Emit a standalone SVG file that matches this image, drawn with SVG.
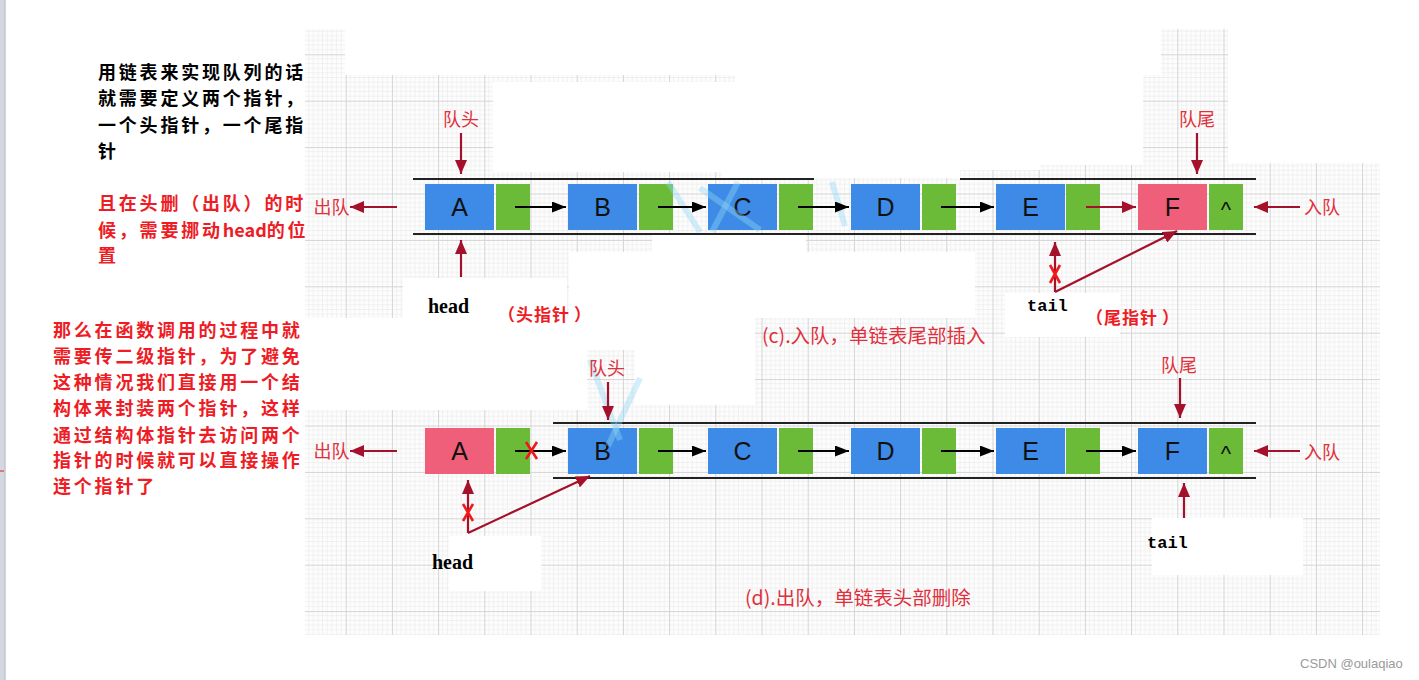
<svg xmlns="http://www.w3.org/2000/svg" width="1419" height="680" viewBox="0 0 1419 680">
<defs>
<style>
.blue{fill:#3d8be6}
.green{fill:#6bba38}
.pink{fill:#ef5f79}
.let{font-family:"Liberation Sans",Arial,sans-serif;font-size:25px;fill:#111;text-anchor:middle}
.caret{font-family:"Liberation Sans",Arial,sans-serif;font-size:22px;fill:#111;text-anchor:middle}
.cap{font-family:"Noto Sans CJK SC",sans-serif;font-size:19.5px;fill:#e0303c}
.lblc{font-family:"Noto Sans CJK SC",sans-serif;font-size:18px;fill:#e0303c;text-anchor:middle}
.ptr{font-family:"Noto Sans CJK SC",sans-serif;font-size:17px;font-weight:700;letter-spacing:1px;fill:#ee1c25}
.note{font-family:"Noto Sans CJK SC",sans-serif;font-size:18px;font-weight:700;letter-spacing:2.8px}
.ra{stroke:#a5102a;stroke-width:2.2;fill:none}
.ba{stroke:#000;stroke-width:2;fill:none}
.rail{stroke:#222;stroke-width:2}
.x{stroke:#f01818;stroke-width:2.6;fill:none}
.wp{fill:#fff}
.streak{stroke:#8fd6f6;stroke-width:6;opacity:0.4;fill:none}
</style>
<pattern id="g" patternUnits="userSpaceOnUse" x="345.7" y="54.3" width="46.2" height="46.4">
<rect width="46.2" height="46.4" fill="#fdfdfd"/>
<path d="M4.62,0V46.4M9.24,0V46.4M13.86,0V46.4M18.48,0V46.4M23.1,0V46.4M27.72,0V46.4M32.34,0V46.4M36.96,0V46.4M41.58,0V46.4M0,4.64H46.2M0,9.28H46.2M0,13.92H46.2M0,18.56H46.2M0,23.2H46.2M0,27.84H46.2M0,32.48H46.2M0,37.12H46.2M0,41.76H46.2" stroke="#ebebeb" stroke-width="0.7"/>
<path d="M0.5,0V46.4M0,0.5H46.2" stroke="#d4d4d4" stroke-width="1"/>
</pattern>
<marker id="mr" markerUnits="userSpaceOnUse" markerWidth="14" markerHeight="12" refX="14" refY="6" orient="auto"><path d="M0,0 L14,6 L0,12 z" fill="#a5102a"/></marker>
<marker id="mb" markerUnits="userSpaceOnUse" markerWidth="14" markerHeight="11" refX="14" refY="5.5" orient="auto"><path d="M0,0 L14,5.5 L0,11 z" fill="#000"/></marker>
</defs>

<rect width="1419" height="680" fill="#fff"/>
<rect x="0" y="0" width="4.5" height="680" fill="#d3d7e0"/>
<line x1="5" y1="0" x2="5" y2="680" stroke="#a4abba" stroke-width="1"/>
<line x1="0" y1="471" x2="4" y2="471" stroke="#e02020" stroke-width="1"/>

<g id="background">
<rect x="305" y="29" width="1075" height="606" fill="url(#g)"/>
<rect class="wp" x="345" y="29" width="816" height="46"/>
<rect class="wp" x="1228" y="29" width="152" height="134"/>
<rect class="wp" x="735" y="75" width="408" height="90"/>
<rect class="wp" x="493" y="82" width="242" height="90"/>
<rect class="wp" x="722" y="165" width="238" height="13"/>
<rect class="wp" x="960" y="165" width="80" height="5"/>
<rect class="wp" x="403" y="278" width="164" height="40"/>
<rect class="wp" x="569" y="252" width="406" height="66"/>
<rect class="wp" x="652" y="235" width="154" height="17"/>
<rect class="wp" x="305" y="318" width="282" height="92"/>
<rect class="wp" x="587" y="318" width="168" height="32"/>
<rect class="wp" x="635" y="350" width="120" height="55"/>
<rect class="wp" x="1005" y="293" width="115" height="44"/>
<rect class="wp" x="449" y="536" width="92" height="55"/>
<rect class="wp" x="1152" y="518" width="151" height="57"/>
</g>

<g id="notes">
<text class="note" fill="#000"><tspan x="98" y="79">用链表来实现队列的话</tspan><tspan x="98" y="105">就需要定义两个指针，</tspan><tspan x="98" y="132">一个头指针，一个尾指</tspan><tspan x="98" y="158">针</tspan></text>
<text class="note" fill="#ee1c25"><tspan x="98" y="210">且在头删（出队）的时</tspan><tspan x="98" y="237">候，需要挪动</tspan><tspan style="letter-spacing:0">head</tspan><tspan>的位</tspan><tspan x="98" y="262">置</tspan></text>
<text class="note" fill="#ee1c25"><tspan x="53" y="337">那么在函数调用的过程中就</tspan><tspan x="53" y="363">需要传二级指针，为了避免</tspan><tspan x="53" y="389">这种情况我们直接用一个结</tspan><tspan x="53" y="415">构体来封装两个指针，这样</tspan><tspan x="53" y="442">通过结构体指针去访问两个</tspan><tspan x="53" y="467">指针的时候就可以直接操作</tspan><tspan x="53" y="493">连个指针了</tspan></text>
</g>

<g id="rails">
<line class="rail" x1="413" y1="179" x2="814" y2="179"/>
<line class="rail" x1="960" y1="179" x2="1256" y2="179"/>
<line class="rail" x1="413" y1="234" x2="1256" y2="234"/>
<line class="rail" x1="553" y1="423" x2="1256" y2="423"/>
<line class="rail" x1="553" y1="478" x2="1256" y2="478"/>
</g>

<g id="c-A"><rect class="blue" x="425" y="184" width="69" height="46"/><rect class="green" x="496" y="184" width="34" height="46"/><text class="let" x="459.5" y="216">A</text></g>
<g id="c-B"><rect class="blue" x="568" y="184" width="69" height="46"/><rect class="green" x="639" y="184" width="34" height="46"/><text class="let" x="602.5" y="216">B</text></g>
<g id="c-C"><rect class="blue" x="708" y="184" width="69" height="46"/><rect class="green" x="779" y="184" width="34" height="46"/><text class="let" x="742.5" y="216">C</text></g>
<g id="c-D"><rect class="blue" x="851" y="184" width="69" height="46"/><rect class="green" x="922" y="184" width="34" height="46"/><text class="let" x="885.5" y="216">D</text></g>
<g id="c-E"><rect class="blue" x="996" y="184" width="69" height="46"/><rect class="green" x="1066" y="184" width="34" height="46"/><text class="let" x="1030.5" y="216">E</text></g>
<g id="c-F"><rect class="pink" x="1138" y="184" width="69" height="46"/><rect class="green" x="1209" y="184" width="34" height="46"/><text class="let" x="1172.5" y="216">F</text><text class="caret" x="1226" y="217">^</text></g>

<g id="d-A"><rect class="pink" x="425" y="428" width="69" height="46"/><rect class="green" x="496" y="428" width="34" height="46"/><text class="let" x="459.5" y="460">A</text></g>
<g id="d-B"><rect class="blue" x="568" y="428" width="69" height="46"/><rect class="green" x="639" y="428" width="34" height="46"/><text class="let" x="602.5" y="460">B</text></g>
<g id="d-C"><rect class="blue" x="708" y="428" width="69" height="46"/><rect class="green" x="779" y="428" width="34" height="46"/><text class="let" x="742.5" y="460">C</text></g>
<g id="d-D"><rect class="blue" x="851" y="428" width="69" height="46"/><rect class="green" x="922" y="428" width="34" height="46"/><text class="let" x="885.5" y="460">D</text></g>
<g id="d-E"><rect class="blue" x="996" y="428" width="69" height="46"/><rect class="green" x="1066" y="428" width="34" height="46"/><text class="let" x="1030.5" y="460">E</text></g>
<g id="d-F"><rect class="blue" x="1138" y="428" width="69" height="46"/><rect class="green" x="1209" y="428" width="34" height="46"/><text class="let" x="1172.5" y="460">F</text><text class="caret" x="1226" y="461">^</text></g>

<g id="streaks">
<path class="streak" d="M668,182 L700,232"/>
<path class="streak" d="M738,182 L712,232"/>
<path class="streak" d="M700,188 L760,230"/>
<path class="streak" d="M832,182 L845,226"/>
<path class="streak" d="M590,360 L620,440"/>
<path class="streak" d="M640,378 L608,446"/>
</g>

<g id="connectors">
<line class="ba" x1="515" y1="207" x2="566" y2="207" marker-end="url(#mb)"/>
<line class="ba" x1="658" y1="207" x2="706" y2="207" marker-end="url(#mb)"/>
<line class="ba" x1="798" y1="207" x2="849" y2="207" marker-end="url(#mb)"/>
<line class="ba" x1="941" y1="207" x2="994" y2="207" marker-end="url(#mb)"/>
<line class="ra" x1="1086" y1="207" x2="1136" y2="207" marker-end="url(#mr)"/>
<line class="ra" x1="397" y1="207" x2="350" y2="207" marker-end="url(#mr)"/>
<line class="ra" x1="1300" y1="207" x2="1254" y2="207" marker-end="url(#mr)"/>
<line class="ra" x1="461" y1="133" x2="461" y2="174" marker-end="url(#mr)"/>
<line class="ra" x1="1197" y1="133" x2="1197" y2="174" marker-end="url(#mr)"/>
<line class="ra" x1="461" y1="277" x2="461" y2="240" marker-end="url(#mr)"/>
<line class="ra" x1="1055" y1="292" x2="1055" y2="242" marker-end="url(#mr)"/>
<line class="ra" x1="1055" y1="292" x2="1177" y2="231" marker-end="url(#mr)"/>
<path class="x" d="M1050,265 L1060,283 M1060,265 L1050,283"/>

<line class="ba" x1="515" y1="451" x2="566" y2="451" marker-end="url(#mb)"/>
<line class="ba" x1="658" y1="451" x2="706" y2="451" marker-end="url(#mb)"/>
<line class="ba" x1="798" y1="451" x2="849" y2="451" marker-end="url(#mb)"/>
<line class="ba" x1="941" y1="451" x2="994" y2="451" marker-end="url(#mb)"/>
<line class="ba" x1="1086" y1="451" x2="1136" y2="451" marker-end="url(#mb)"/>
<path class="x" d="M526,442 L537,459 M537,442 L526,459"/>
<line class="ra" x1="397" y1="451" x2="350" y2="451" marker-end="url(#mr)"/>
<line class="ra" x1="1300" y1="451" x2="1254" y2="451" marker-end="url(#mr)"/>
<line class="ra" x1="608" y1="382" x2="608" y2="420" marker-end="url(#mr)"/>
<line class="ra" x1="1180" y1="378" x2="1180" y2="418" marker-end="url(#mr)"/>
<line class="ra" x1="468" y1="533" x2="468" y2="480" marker-end="url(#mr)"/>
<line class="ra" x1="468" y1="533" x2="590" y2="476" marker-end="url(#mr)"/>
<path class="x" d="M463,504 L473,521 M473,504 L463,521"/>
<line class="ra" x1="1184" y1="518" x2="1184" y2="483" marker-end="url(#mr)"/>
</g>

<g id="labels">
<text class="lblc" x="461" y="125.5">队头</text>
<text class="lblc" x="1197" y="125.5">队尾</text>
<text class="lblc" x="331.5" y="213.5">出队</text>
<text class="lblc" x="1322" y="213.5">入队</text>
<text x="428" y="313" font-family="Liberation Serif,serif" font-size="20" font-weight="700" fill="#000">head</text>
<text class="ptr" x="498" y="321">（头指针<tspan dx="4">）</tspan></text>
<text x="1027" y="311" font-family="Liberation Mono,monospace" font-size="17" font-weight="700" fill="#000">tail</text>
<text class="ptr" x="1086" y="324">（尾指针<tspan dx="4">）</tspan></text>
<text class="cap" x="762" y="343">(c).入队，单链表尾部插入</text>

<text class="lblc" x="607" y="374.5">队头</text>
<text class="lblc" x="1179" y="371.5">队尾</text>
<text class="lblc" x="331.5" y="457.5">出队</text>
<text class="lblc" x="1322" y="458.5">入队</text>
<text x="432" y="569" font-family="Liberation Serif,serif" font-size="20" font-weight="700" fill="#000">head</text>
<text x="1147" y="548" font-family="Liberation Mono,monospace" font-size="17" font-weight="700" fill="#000">tail</text>
<text class="cap" x="745" y="605">(d).出队，单链表头部删除</text>
</g>

<text x="1300" y="668" font-family="Liberation Sans,Arial,sans-serif" font-size="13" fill="#9a9a9a">CSDN @oulaqiao</text>
</svg>
